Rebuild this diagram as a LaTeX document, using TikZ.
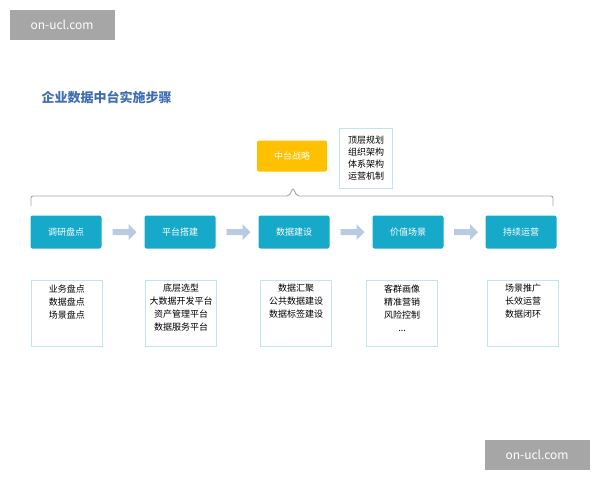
\documentclass[tikz,border=0pt]{standalone}
\usepackage{fontspec}
\setmainfont{Noto Sans CJK SC}
\usetikzlibrary{shapes.arrows,calc}
\definecolor{stepteal}{HTML}{17A9C9}
\definecolor{gold}{HTML}{FFC000}
\definecolor{pale}{HTML}{C3E4EC}
\definecolor{arr}{HTML}{B9CBE2}
\definecolor{titleblue}{HTML}{3E6DB5}
\newcommand{\detailtext}[1]{\parbox[t][58pt][t]{66pt}{\centering #1}}
\tikzset{
  phase/.style={fill=stepteal, rounded corners=2pt, minimum width=71pt, minimum height=33pt, text=white, font=\fontsize{9}{10}\selectfont},
  detail/.style={draw=pale, line width=0.8pt, anchor=north, font=\fontsize{9}{13}\selectfont, inner xsep=2.5pt, inner ysep=4pt},
  flow/.style={single arrow, fill=arr, minimum height=24pt, minimum width=16pt, single arrow head extend=2pt, inner sep=1pt},
  wmark/.style={fill=gray!70, text=white, minimum width=105pt, minimum height=30pt, font=\fontsize{12}{14}\selectfont}
}
\begin{document}
\begin{tikzpicture}[x=1pt, y=-1pt]
  \useasboundingbox (0,0) rectangle (600,480);
  \node[wmark] (wm1) at (62,25) {on-ucl.com};
  \node[wmark] (wm2) at (537,455) {on-ucl.com};
  \node[anchor=west, text=titleblue, font=\fontsize{13}{15}\selectfont\bfseries] (title) at (38,97) {企业数据中台实施步骤};
  % strategy
  \node[fill=gold, rounded corners=2pt, minimum width=70pt, minimum height=31pt, text=white, font=\fontsize{9}{10}\selectfont] (strat) at (292,156) {中台战略};
  \node[draw=pale, line width=0.8pt, align=left, font=\fontsize{9}{12}\selectfont, minimum width=53pt, minimum height=60pt, inner sep=2pt] (plan) at (366,158) {顶层规划\\组织架构\\体系架构\\运营机制};
  % bracket
  \coordinate (bl) at (31,206);
  \coordinate (br) at (553,206);
  \draw[gray!70, line width=0.9pt, rounded corners=2pt] (bl) -- (31,196) -- (289,196) -- (293,188) -- (297,196) -- (553,196) -- (br);
  % phases
  \node[phase] (s1) at (66,232) {调研盘点};
  \node[phase] (s2) at (180,232) {平台搭建};
  \node[phase] (s3) at (294,232) {数据建设};
  \node[phase] (s4) at (408,232) {价值场景};
  \node[phase] (s5) at (521,232) {持续运营};
  \foreach \a/\b in {s1/s2,s2/s3,s3/s4,s4/s5}
    \node[flow] at ($(\a)!0.5!(\b)$) {};
  % details
  \node[detail] (d1) at (67,280) {\detailtext{业务盘点\\数据盘点\\场景盘点}};
  \node[detail] (d2) at (181,280) {\detailtext{底层选型\\大数据开发平台\\资产管理平台\\数据服务平台}};
  \node[detail] (d3) at (296,280) {\detailtext{数据汇聚\\公共数据建设\\数据标签建设}};
  \node[detail] (d4) at (402,280) {\detailtext{客群画像\\精准营销\\风险控制\\...}};
  \node[detail] (d5) at (523,280) {\detailtext{场景推广\\长效运营\\数据闭环}};
\end{tikzpicture}
\end{document}
